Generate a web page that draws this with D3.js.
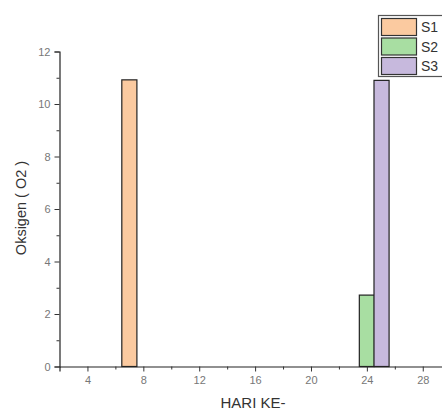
<!DOCTYPE html>
<html><head><meta charset="utf-8">
<script src="https://cdn.jsdelivr.net/npm/d3@7"></script>
<style>body{margin:0;background:#fff}svg{display:block}</style>
</head><body>
<svg id="c" width="442" height="412"></svg>
<script>
const seriesNames = ["S1", "S2", "S3"];
const seriesDays = [7, 24, 25.05];
const seriesValues = [10.92, 2.72, 10.9];
const seriesColors = ["#fbcaa0", "#a8dea2", "#c7b9dd"];
const xTicks = [4, 8, 12, 16, 20, 24, 28];
const yTicks = [0, 2, 4, 6, 8, 10, 12];
const barWidthDays = 1.08;

const svg = d3.select("#c");
const x = d3.scaleLinear().domain([2, 30]).range([59.5, 450.7]);
const y = d3.scaleLinear().domain([0, 12]).range([366.5, 51.5]);
const font = "'Liberation Sans', Arial, sans-serif";

// bars
const bars = seriesNames.map((n, i) => ({name: n, day: seriesDays[i], v: seriesValues[i], c: seriesColors[i]}));
svg.append("g").selectAll("rect").data(bars).join("rect")
  .attr("x", d => x(d.day - barWidthDays / 2))
  .attr("width", d => x(d.day + barWidthDays / 2) - x(d.day - barWidthDays / 2))
  .attr("y", d => y(d.v))
  .attr("height", d => y(0) - y(d.v))
  .attr("fill", d => d.c)
  .attr("stroke", "#222").attr("stroke-width", 1.2);

// x axis
svg.append("g").attr("transform", `translate(0,${y(0)})`)
  .call(d3.axisBottom(x).tickValues(xTicks).tickSize(5).tickPadding(5).tickFormat(d3.format("d")));
svg.append("g").attr("transform", `translate(0,${y(0)})`)
  .call(d3.axisBottom(x).tickValues(d3.range(6, 30, 4)).tickSize(3).tickFormat(""))
  .select(".domain").remove();
// y axis
svg.append("g").attr("transform", `translate(${x(2)},0)`)
  .call(d3.axisLeft(y).tickValues(yTicks).tickSize(5).tickPadding(4).tickFormat(d3.format("d")));
svg.append("g").attr("transform", `translate(${x(2)},0)`)
  .call(d3.axisLeft(y).tickValues(d3.range(1, 12, 2)).tickSize(3).tickFormat(""))
  .select(".domain").remove();

svg.selectAll(".tick line").attr("stroke", "#333");
svg.selectAll(".domain").attr("stroke", "#222").attr("stroke-width", 1.2);
svg.selectAll(".tick text").attr("font-family", font).attr("font-size", 11).attr("fill", "#777");

// axis titles
svg.append("text").attr("x", 253).attr("y", 408).attr("text-anchor", "middle")
  .attr("font-family", font).attr("font-size", 15).attr("fill", "#333").text("HARI KE-");
svg.append("text").attr("transform", "translate(26,208) rotate(-90)").attr("text-anchor", "middle")
  .attr("font-family", font).attr("font-size", 14.5).attr("fill", "#333").text("Oksigen ( O2 )");

// legend
const lg = svg.append("g");
lg.append("rect").attr("x", 378.5).attr("y", 15.5).attr("width", 80).attr("height", 61)
  .attr("fill", "#fff").attr("stroke", "#555").attr("stroke-width", 1.2);
seriesNames.forEach((n, i) => {
  lg.append("rect").attr("x", 381.5).attr("y", 18.5 + i * 19.5).attr("width", 35).attr("height", 17)
    .attr("fill", seriesColors[i]).attr("stroke", "#333").attr("stroke-width", 1.2);
  lg.append("text").attr("x", 421).attr("y", 32 + i * 19.5)
    .attr("font-family", font).attr("font-size", 14).attr("fill", "#333").text(n);
});
</script>
</body></html>
